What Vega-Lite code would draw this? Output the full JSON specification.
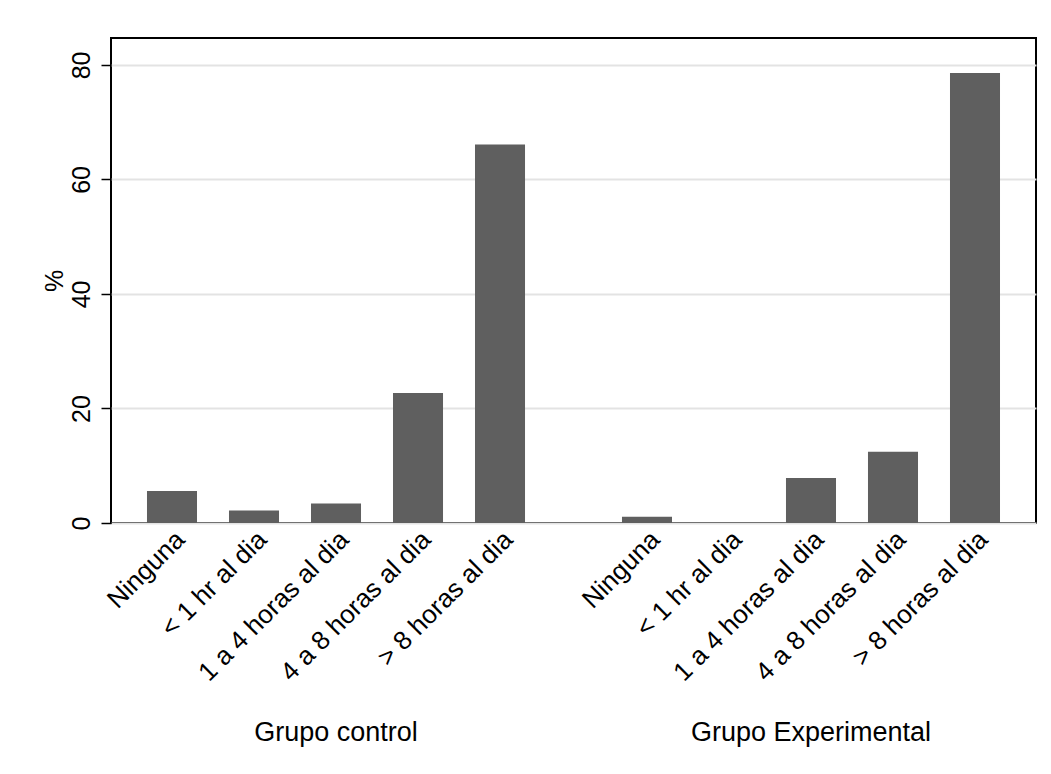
{
  "$schema": "https://vega.github.io/schema/vega-lite/v6.json",
  "width": 925,
  "height": 485,
  "autosize": {"type": "none"},
  "padding": {"left": 111, "top": 38, "right": 15, "bottom": 251},
  "background": "white",
  "config": {
    "font": "Liberation Sans",
    "view": {"stroke": "black", "strokeWidth": 2}
  },
  "data": {
    "values": [
      {"grupo": "Grupo control", "cat": "Ninguna", "pct": 5.6},
      {"grupo": "Grupo control", "cat": "< 1 hr al dia", "pct": 2.2},
      {"grupo": "Grupo control", "cat": "1 a 4 horas al dia", "pct": 3.4},
      {"grupo": "Grupo control", "cat": "4 a 8 horas al dia", "pct": 22.7},
      {"grupo": "Grupo control", "cat": "> 8 horas al dia", "pct": 66.1},
      {"grupo": "Grupo Experimental", "cat": "Ninguna", "pct": 1.1},
      {"grupo": "Grupo Experimental", "cat": "< 1 hr al dia", "pct": 0},
      {"grupo": "Grupo Experimental", "cat": "1 a 4 horas al dia", "pct": 7.85},
      {"grupo": "Grupo Experimental", "cat": "4 a 8 horas al dia", "pct": 12.45},
      {"grupo": "Grupo Experimental", "cat": "> 8 horas al dia", "pct": 78.6}
    ]
  },
  "encoding": {
    "x": {
      "field": "grupo",
      "type": "nominal",
      "sort": ["Grupo control", "Grupo Experimental"],
      "scale": {"paddingInner": 0.1, "paddingOuter": 0.0237},
      "axis": {
        "title": null,
        "domain": false,
        "ticks": false,
        "labelAngle": 0,
        "labelFontSize": 27,
        "labelColor": "black",
        "labelPadding": 196,
        "labelBaseline": "top",
        "labelLimit": 0
      }
    },
    "xOffset": {
      "field": "cat",
      "type": "nominal",
      "sort": ["Ninguna", "< 1 hr al dia", "1 a 4 horas al dia", "4 a 8 horas al dia", "> 8 horas al dia"],
      "scale": {"paddingInner": 0.39, "paddingOuter": 0.3016}
    }
  },
  "layer": [
    {
      "mark": {"type": "bar", "color": "#5f5f5f"},
      "encoding": {
        "y": {
          "field": "pct",
          "type": "quantitative",
          "scale": {"domain": [0, 84.7], "nice": false, "zero": true},
          "axis": {
            "title": "%",
            "titleFontSize": 25,
            "titleFontWeight": "normal",
            "titleColor": "black",
            "titlePadding": 2,
            "values": [0, 20, 40, 60, 80],
            "labelAngle": 270,
            "labelAlign": "center",
            "labelBaseline": "bottom",
            "labelFontSize": 25,
            "labelColor": "black",
            "labelPadding": 7,
            "tickSize": 10,
            "tickColor": "black",
            "tickWidth": 1.5,
            "domain": false,
            "grid": true,
            "gridColor": "#e3e3e3",
            "gridWidth": 2
          }
        }
      }
    },
    {
      "mark": {
        "type": "text",
        "angle": 315,
        "align": "right",
        "baseline": "middle",
        "fontSize": 26,
        "color": "black",
        "dx": -3,
        "dy": 15
      },
      "encoding": {
        "y": {"datum": 0},
        "text": {"field": "cat"}
      }
    }
  ]
}
